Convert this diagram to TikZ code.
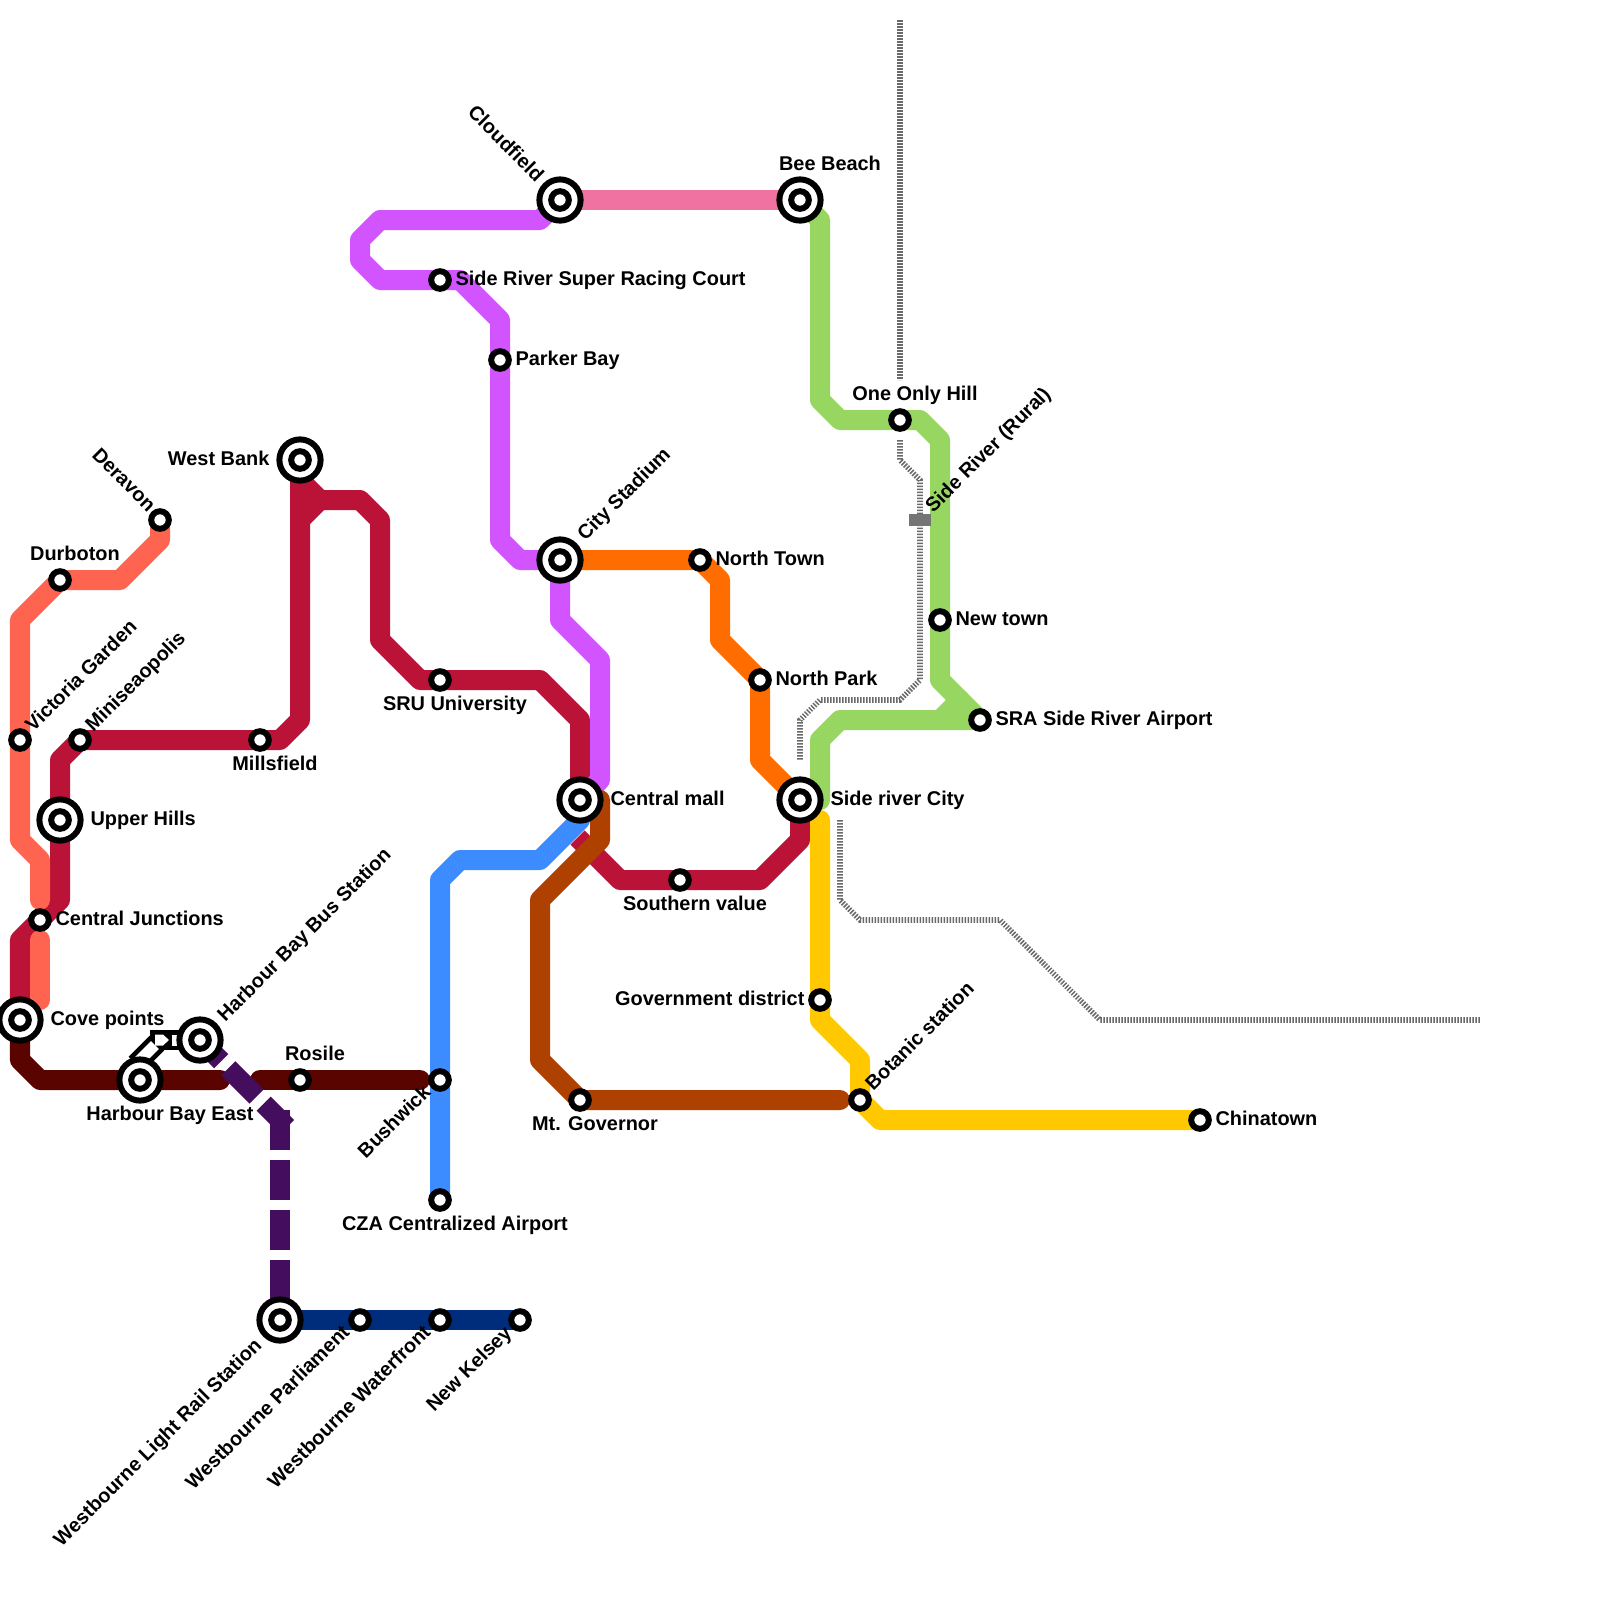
\documentclass[tikz,border=0pt]{standalone}
\usepackage{fontspec}
\setmainfont{Liberation Sans}
\usetikzlibrary{backgrounds}
\definecolor{coral}{HTML}{FF6450}
\definecolor{crimson}{HTML}{BB1237}
\definecolor{violet}{HTML}{D154FF}
\definecolor{rose}{HTML}{F072A0}
\definecolor{tangelo}{HTML}{FF6C00}
\definecolor{leaf}{HTML}{98D662}
\definecolor{sky}{HTML}{3C8CFF}
\definecolor{rust}{HTML}{AE4000}
\definecolor{amber}{HTML}{FFC800}
\definecolor{maroon}{HTML}{5A0400}
\definecolor{plum}{HTML}{450D5D}
\definecolor{navy}{HTML}{002C7C}
\definecolor{track}{HTML}{757575}
\tikzset{
  metro/.style={line width=2.5mm,line join=round,line cap=round},
  dashedmetro/.style={line width=2.5mm,color=plum,dash pattern=on 5mm off 1.25mm},
  rail/.style={line width=.7mm,color=track!90!black,dash pattern=on .1875mm off .1875mm},
  stn/.style={circle,draw=black,fill=white,line width=.75mm,minimum size=2.2mm,inner sep=0pt},
  hub/.style={circle,draw=black,fill=white,line width=.75mm,minimum size=5.15mm,inner sep=0pt},
  lbl/.style={inner sep=0pt,font=\bfseries\fontsize{2.49mm}{3mm}\selectfont},
}
\begin{document}
\begin{tikzpicture}[x=.125mm,y=-.125mm]
  \useasboundingbox (0,0) rectangle (1600,1600);
  \foreach \nm/\x/\y in {wbank/300/460, upperh/60/820, cove/20/1020, hbe/140/1080, hbb/200/1040,
                         wlrs/280/1320, cloudf/560/200, beeb/800/200, citys/560/560,
                         cmall/580/800, srcity/800/800}
    \node[hub] (\nm) at (\x,\y) {};
  \foreach \nm/\x/\y in {wbank/300/460, upperh/60/820, cove/20/1020, hbe/140/1080, hbb/200/1040,
                         wlrs/280/1320, cloudf/560/200, beeb/800/200, citys/560/560,
                         cmall/580/800, srcity/800/800}
    \node[stn] (\nm-in) at (\x,\y) {};
  \foreach \nm/\x/\y in {cjunc/40/920, victg/20/740, minis/80/740, durb/60/580, derav/160/520,
                         mills/260/740, rosile/300/1080, bushw/440/1080, cza/440/1200,
                         wparl/360/1320, wwat/440/1320, nkel/520/1320, srcourt/440/280,
                         parker/500/360, sru/440/680, ntown/700/560, npark/760/680,
                         south/680/880, mtgov/580/1100, botan/860/1100, govd/820/1000,
                         china/1200/1120, hill/900/420, newt/940/620, sra/980/720}
    \node[stn] (\nm) at (\x,\y) {};
  \node[fill=track,minimum width=2.75mm,minimum height=1.5mm,inner sep=0pt] (srr) at (920,520) {};

  % labels to the right of their stations
  \foreach \nm/\x/\y/\txt in {cjunc/55/925/Central Junctions, upperh/90/825/Upper Hills,
                              cove/50/1025/Cove points, srcourt/455/285/Side River Super Racing Court,
                              parker/515/365/Parker Bay, cmall/610/805/Central mall,
                              srcity/830/805/Side river City, ntown/715/565/North Town,
                              npark/775/685/North Park, newt/955/625/New town,
                              sra/995/725/SRA Side River Airport, china/1215/1125/Chinatown}
    \node[lbl,anchor=base west] (l-\nm) at (\x,\y) {\txt};
  \foreach \nm/\x/\y/\txt in {wbank/270/465/West Bank, govd/805/1005/Government district}
    \node[lbl,anchor=base east] (l-\nm) at (\x,\y) {\txt};
  \foreach \nm/\x/\y/\txt in {durb/75/560/Durboton, mills/275/770/Millsfield, sru/455/710/SRU University,
                              south/695/910/Southern value, rosile/315/1060/Rosile,
                              hill/915/400/One Only Hill, beeb/830/170/Bee Beach,
                              mtgov/595/1130/Mt. Governor, cza/455/1230/CZA Centralized Airport,
                              hbe/170/1120/Harbour Bay East}
    \node[lbl,anchor=base] (l-\nm) at (\x,\y) {\txt};
  \foreach \nm/\x/\y/\txt in {victg/33/733/Victoria Garden, minis/93/733/Miniseaopolis,
                              botan/873/1092/Botanic station, citys/585/542/City Stadium,
                              hbb/225/1023/Harbour Bay Bus Station, srr/933/514/Side River (Rural)}
    \node[lbl,anchor=base west,rotate=45] (l-\nm) at (\x,\y) {\txt};
  \foreach \nm/\x/\y/\txt in {wlrs/263/1346/Westbourne Light Rail Station, wparl/351/1333/Westbourne Parliament,
                              wwat/432/1333/Westbourne Waterfront, nkel/513/1334/New Kelsey,
                              bushw/432/1093/Bushwick}
    \node[lbl,anchor=base east,rotate=45] (l-\nm) at (\x,\y) {\txt};
  \foreach \nm/\x/\y/\txt in {derav/148/513/Deravon, cloudf/536/183/Cloudfield}
    \node[lbl,anchor=base east,rotate=-45] (l-\nm) at (\x,\y) {\txt};

  \begin{pgfonlayer}{background}
    % free ends of the lines
    \coordinate (coralend) at (40,900);
    \coordinate (coralA) at (40,940);
    \coordinate (coralB) at (40,1000);
    \coordinate (stub) at (577.5,837.5);
    \coordinate (maroonA) at (220,1080);
    \coordinate (maroonB) at (260,1080);
    \coordinate (maroonC) at (420,1080);
    \coordinate (rustA) at (600,800);
    \coordinate (rustB) at (840,1100);
    \coordinate (amberA) at (820,820);
    \coordinate (leafA) at (820,800);
    \coordinate (leafB) at (960,700);
    \coordinate (plumA) at (287,1127);
    \coordinate (plumB) at (280,1110);
    \coordinate (railA) at (900,20);
    \coordinate (railB) at (900,380);
    \coordinate (railC) at (900,440);
    \coordinate (railD) at (800,760);
    \coordinate (railE) at (840,820);
    \coordinate (railF) at (1480,1020);
    \coordinate (linkA) at (136,1064);

    \draw[rail] (railA) -- (railB);
    \draw[rail] (railC) -- (900,460) -- (920,480) -- (920,680) -- (900,700) -- (820,700) -- (800,720) -- (railD);
    \draw[rail] (railE) -- (840,900) -- (860,920) -- (1000,920) -- (1100,1020) -- (railF);

    \draw[metro,crimson] (wbank.center) -- (300,720) -- (280,740) -- (mills.center) -- (minis.center) -- (60,760)
      -- (upperh.center) -- (60,900) -- (cjunc.center) -- (20,940) -- (cove.center);
    \draw[metro,crimson] (wbank.center) -- (300,480) -- (320,500) -- (360,500) -- (380,520) -- (380,640)
      -- (420,680) -- (sru.center) -- (540,680) -- (580,720) -- (cmall.center);
    \draw[metro,crimson] (300,520) -- (320,500);
    \draw[metro,crimson,line cap=butt] (stub) -- (620,880) -- (south.center) -- (760,880) -- (800,840) -- (srcity.center);
    \draw[metro,coral] (derav.center) -- (160,540) -- (120,580) -- (durb.center) -- (20,620) -- (victg.center)
      -- (20,840) -- (40,860) -- (coralend);
    \draw[metro,coral] (coralA) -- (coralB);
    \draw[metro,violet] (cloudf.center) -- (540,220) -- (380,220) -- (360,240) -- (360,260) -- (380,280)
      -- (srcourt.center) -- (460,280) -- (500,320) -- (parker.center) -- (500,540) -- (520,560)
      -- (citys.center) -- (560,620) -- (600,660) -- (600,780) -- (cmall.center);
    \draw[metro,rose] (cloudf.center) -- (beeb.center);
    \draw[metro,tangelo] (citys.center) -- (ntown.center) -- (720,580) -- (720,640) -- (npark.center)
      -- (760,760) -- (srcity.center);
    \draw[metro,leaf] (beeb.center) -- (820,220) -- (820,400) -- (840,420) -- (hill.center) -- (920,420)
      -- (940,440) -- (newt.center) -- (940,680) -- (sra.center) -- (840,720) -- (820,740) -- (leafA);
    \draw[metro,leaf] (940,720) -- (leafB);
    \draw[metro,sky] (cza.center) -- (bushw.center) -- (440,880) -- (460,860) -- (540,860) -- (580,820) -- (cmall.center);
    \draw[metro,rust] (rustA) -- (600,840) -- (540,900) -- (540,1060) -- (mtgov.center) -- (rustB);
    \draw[metro,amber] (amberA) -- (govd.center) -- (820,1020) -- (860,1060) -- (botan.center) -- (880,1120) -- (china.center);
    \draw[metro,maroon] (cove.center) -- (20,1060) -- (40,1080) -- (hbe.center) -- (maroonA);
    \draw[metro,maroon] (maroonB) -- (rosile.center) -- (maroonC);
    \draw[dashedmetro,dash phase=1.25mm] (hbb.center) -- (plumA);
    \draw[dashedmetro] (plumB) -- (wlrs.center);
    \draw[metro,navy] (wlrs.center) -- (wparl.center) -- (wwat.center) -- (nkel.center);

    % transfer between the two Harbour Bay stations
    \draw[line width=2.6mm,black] (linkA) -- (157,1043);
    \draw[line width=2.5mm,black] (150,1040) -- (hbb.center);
    \draw[line width=1.4mm,white] (linkA) -- (155,1045);
    \fill[white] (155,1034.5) -- (163,1034.5) -- (169,1040) -- (163,1045.5) -- (155,1045.5) -- cycle;
    \fill[white] (172,1034.5) rectangle (185,1045.5);
  \end{pgfonlayer}
\end{tikzpicture}
\end{document}
